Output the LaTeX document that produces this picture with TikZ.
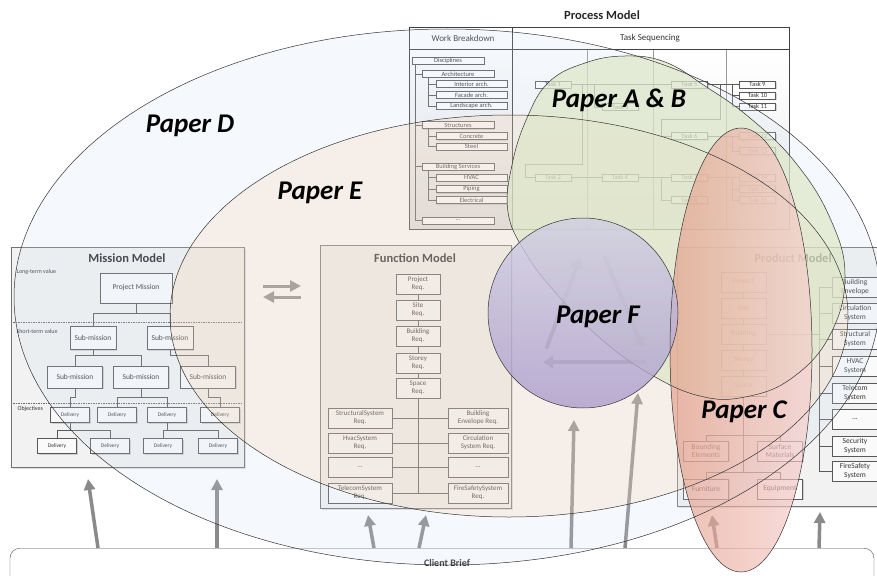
\documentclass[tikz,border=0pt]{standalone}
\usepackage{fontspec}
\setmainfont{Carlito}
\usepackage{tikz}
\usetikzlibrary{arrows.meta,shadows,calc}
\definecolor{dfill}{RGB}{205,222,240}
\definecolor{efill}{RGB}{250,205,160}
\definecolor{abfill}{RGB}{221,230,199}
\definecolor{cleft}{RGB}{228,156,135}
\definecolor{cright}{RGB}{246,206,206}
\definecolor{ftop}{RGB}{208,206,228}
\definecolor{fbot}{RGB}{171,156,203}
\definecolor{arrgray}{RGB}{138,138,138}

\begin{document}
\begin{tikzpicture}[x=1pt,y=-1pt,
  panel/.style = {draw=black!55, fill=black!5, drop shadow={shadow xshift=1.5pt, shadow yshift=-1.5pt, opacity=.25}},
  title/.style = {font=\fontsize{12.5}{14}\selectfont\bfseries, text=black!85},
  head/.style = {font=\fontsize{9}{10}\selectfont, text=black!80},
  note/.style = {font=\fontsize{6}{7}\selectfont, text=black!80, anchor=west},
  box/.style = {draw=black!65, fill=black!2, text=black!80, inner sep=0pt, align=center, drop shadow={shadow xshift=1pt, shadow yshift=-1pt, opacity=.3}},
  mbox/.style = {box, font=\fontsize{7.5}{9}\selectfont},
  dbox/.style = {box, minimum width=39pt, minimum height=15pt, font=\fontsize{5.5}{6}\selectfont},
  fbox/.style = {box, minimum width=44pt, minimum height=20pt, font=\fontsize{7}{8}\selectfont},
  sbox/.style = {fbox, minimum width=64pt},
  wbox/.style = {box, fill=white, minimum width=72pt, minimum height=7pt, font=\fontsize{6.5}{7}\selectfont},
  tbox/.style = {wbox, minimum width=36pt},
  pbox/.style = {fbox, minimum width=45pt, font=\fontsize{7.5}{8.5}\selectfont},
  link/.style = {draw=black!65, line width=.6pt},
  up/.style = {draw=arrgray, line width=3.5pt, -{Triangle[length=11pt,width=11pt]}},
  tri/.style = {draw=black!45, line width=4pt, line cap=round, -{Triangle[length=10pt,width=12pt]}},
  paper/.style = {draw=black!80, line width=.5pt},
  plabel/.style = {font=\fontsize{27}{30}\selectfont\bfseries\itshape}]
\useasboundingbox (0,0) rectangle (877,575);
\clip (0,0) rectangle (877,575);
\fill[white] (0,0) rectangle (877,575);

% process model
\node (PRT) at (602,15)[title] {Process Model};
\fill[white] (409,27) rectangle (789,229);
\shade[top color=white,bottom color=black!12] (409,49) rectangle (512,229);
\foreach \a/\b in {512/587,587/653,653/726,726/789}
  \shade[top color=white,bottom color=black!7] (\a,49) rectangle (\b,229);
\draw[black!40] (587,49) -- (587,229) (653,49) -- (653,229) (726,49) -- (726,229);
\draw[black!75] (409,27) rectangle (789,229) (409,49) -- (789,49) (512,27) -- (512,229);
\node (WBH) at (463,38)[head] {Work Breakdown};
\node (TSH) at (650,38)[head] {Task Sequencing};

\node (W0) at (448,61)[wbox] {Disciplines};
\node (W1) at (458,74)[wbox] {Architecture};
\node (W1a) at (471.5,84)[wbox,minimum width=71pt] {Interior arch.};
\node (W1b) at (471.5,95)[wbox,minimum width=71pt] {Facade arch.};
\node (W1c) at (471.5,106)[wbox,minimum width=71pt] {Landscape arch.};
\node (W2) at (458,125)[wbox] {Structures};
\node (W2a) at (471.5,136)[wbox,minimum width=71pt] {Concrete};
\node (W2b) at (471.5,146.5)[wbox,minimum width=71pt] {Steel};
\node (W3) at (458,166.5)[wbox] {Building Services};
\node (W3a) at (471.5,177.5)[wbox,minimum width=71pt] {HVAC};
\node (W3b) at (471.5,189)[wbox,minimum width=71pt] {Piping};
\node (W3c) at (471.5,200)[wbox,minimum width=71pt] {Electrical};
\node (W4) at (458,220.5)[wbox] {...};
\foreach \n in {W1,W2,W3,W4} \draw[link] ([xshift=3pt]W0.south west) |- (\n.west);
\foreach \n in {W1a,W1b,W1c} \draw[link] ([xshift=6pt]W1.south west) |- (\n.west);
\foreach \n in {W2a,W2b} \draw[link] ([xshift=6pt]W2.south west) |- (\n.west);
\foreach \n in {W3a,W3b,W3c} \draw[link] ([xshift=6pt]W3.south west) |- (\n.west);

\node (T1) at (553,84.5)[tbox] {Task 1};
\node (T2) at (553,177.5)[tbox] {Task 2};
\node (T3) at (620.5,107)[tbox] {Task 3};
\node (T4) at (620,177.5)[tbox] {Task 4};
\node (T5) at (689.5,84.5)[tbox] {Task 5};
\node (T6) at (689.5,136)[tbox] {Task 6};
\node (T7) at (689.5,177.5)[tbox] {Task 7};
\node (T8) at (689.5,200)[tbox] {Task 8};
\node (T9) at (757.5,84.5)[tbox] {Task 9};
\node (T10) at (757.5,95.5)[tbox] {Task 10};
\node (T11) at (757.5,106.5)[tbox] {Task 11};
\node (T12) at (757.5,136)[tbox] {Task 12};
\node (T13) at (757.5,151)[tbox] {Task 13};
\node (T14) at (757.5,177.5)[tbox] {Task 14};
\node (T15) at (757.5,189)[tbox] {Task 15};
\node (T16) at (757.5,200)[tbox] {Task 16};
\draw[link] (T1.east) -- (T5.west);
\draw[link] ([xshift=23pt]T1.east) |- (T3.west);
\draw[link] ([xshift=11pt]T1.east) -- ++(0,79.5) -| ([xshift=-10pt]T2.west) -- (T2.west);
\draw[link] (T2.east) -- (T4.west);
\draw[link] (T4.east) -- (T7.west);
\draw[link] ([xshift=23pt]T4.east) |- (T8.west);
\draw[link] (T5.east) -- (T9.west);
\draw[link] ([xshift=25pt]T5.east) |- (T10.west);
\draw[link] ([xshift=25pt]T5.east) |- (T11.west);
\draw[link] ([xshift=13pt]T5.east) -- ++(0,34.5) -| ([xshift=-10pt]T6.west) -- (T6.west);
\draw[link] (T6.east) -- (T12.west);
\draw[link] ([xshift=25pt]T6.east) |- (T13.west);
\draw[link] (T7.east) -- (T14.west);
\draw[link] ([xshift=25pt]T7.east) |- (T15.west);
\draw[link] ([xshift=25pt]T7.east) |- (T16.west);

% mission model
\draw[panel] (11,247) rectangle (244,467);
\node (MT) at (127,258)[title] {Mission Model};
\node (LV) at (13,272)[note] {Long-term value};
\node (SV) at (13,331)[note] {Short-term value};
\node (OB) at (14,409)[note] {Objectives};
\draw[black!60,dash pattern=on 1.5pt off 1pt] (13,322) -- (242,322) (13,403) -- (242,403);
\node (PM) at (136,288)[mbox,minimum width=72pt,minimum height=30pt] {Project Mission};
\node (S1) at (93,338)[mbox,minimum width=46pt,minimum height=23pt] {Sub-mission};
\node (S2) at (170,338)[mbox,minimum width=46pt,minimum height=23pt] {Sub-mission};
\node (S3) at (75,377)[mbox,minimum width=55pt,minimum height=22pt] {Sub-mission};
\node (S4) at (141,377)[mbox,minimum width=55pt,minimum height=22pt] {Sub-mission};
\node (S5) at (208,377)[mbox,minimum width=55pt,minimum height=22pt] {Sub-mission};
\node (D1) at (70,415)[dbox] {Delivery};
\node (D2) at (117,415)[dbox] {Delivery};
\node (D3) at (167,415)[dbox] {Delivery};
\node (D4) at (220,415)[dbox] {Delivery};
\node (D5) at (57,446)[dbox] {Delivery};
\node (D6) at (110,446)[dbox] {Delivery};
\node (D7) at (163,446)[dbox] {Delivery};
\node (D8) at (218,446)[dbox] {Delivery};
\draw[link] (PM.south) -- ++(0,10) -| (S1.north);
\draw[link] (PM.south) -- ++(0,10) -| (S2.north);
\draw[link] (S1.south) -- ++(0,6) -| (S3.north);
\draw[link] (S1.south) -- ++(0,6) -| (S4.north);
\draw[link] (S2.south) -- ++(0,6) -| (S5.north);
\draw[link] (S3.south) -- ++(0,9) -| (D1.north);
\draw[link] (S4.south) -- ++(0,9) -| (D2.north);
\draw[link] (S4.south) -- ++(0,9) -| (D3.north);
\draw[link] (S5.south) -- ++(0,9) -| (D4.north);
\draw[link] (D1.south) -- ++(0,8) -| (D5.north);
\draw[link] (D1.south) -- ++(0,8) -| (D6.north);
\draw[link] (D3.south) -- ++(0,8) -| (D7.north);
\draw[link] (D3.south) -- ++(0,8) -| (D8.north);

% function model
\draw[panel] (320,245) rectangle (511,508);
\node (FT) at (415,258)[title] {Function Model};
\node (F1) at (418,284)[fbox] {Project\\Req.};
\node (F2) at (418,310)[fbox] {Site\\Req.};
\node (F3) at (418,336)[fbox] {Building\\Req.};
\node (F4) at (418,363)[fbox] {Storey\\Req.};
\node (F5) at (418,388)[fbox] {Space\\Req.};
\node (L1) at (360,418)[sbox] {StructuralSystem\\Req.};
\node (L2) at (360,443)[sbox] {HvacSystem\\Req.};
\node (L3) at (360,467)[sbox] {...};
\node (L4) at (360,493)[sbox] {TelecomSystem\\Req.};
\node (R1) at (478,418)[sbox,minimum width=60pt] {Building\\Envelope Req.};
\node (R2) at (478,443)[sbox,minimum width=60pt] {Circulation\\System Req.};
\node (R3) at (478,467)[sbox,minimum width=60pt] {...};
\node (R4) at (478,493)[sbox,minimum width=60pt] {FireSafetySystem\\Req.};
\draw[link] (F1) -- (F2);
\draw[link] (F2) -- (F3);
\draw[link] (F3) -- (F4);
\draw[link] (F4) -- (F5);
\draw[link,line width=1pt] (F5.south) -- (F5.south |- L4.east);
\foreach \i in {1,...,4} \draw[link] (L\i.east) -- (R\i.west);

% product model
\draw[panel] (677,247) rectangle (885,506);
\node (PT) at (793,258)[title,text=black] {Product Model};
\node (P1) at (743.5,282)[pbox] {Project};
\node (P2) at (743.5,308)[pbox] {Site};
\node (P3) at (743.5,334)[pbox] {Building};
\node (P4) at (743.5,360)[pbox] {Storey};
\node (P5) at (743.5,386)[pbox] {Space};
\node (B1) at (706,451)[pbox] {Bounding\\Elements};
\node (B2) at (780,451)[pbox] {Surface\\Materials};
\node (B3) at (706,489)[pbox] {Furniture};
\node (B4) at (780,489)[pbox] {Equipment};
\node (Q1) at (855,287)[pbox] {Building\\Envelope};
\node (Q2) at (855,313)[pbox] {Circulation\\System};
\node (Q3) at (855,339)[pbox] {Structural\\System};
\node (Q4) at (855,366)[pbox] {HVAC\\System};
\node (Q5) at (855,393)[pbox] {Telecom\\System};
\node (Q6) at (855,419)[pbox] {...};
\node (Q7) at (855,446)[pbox] {Security\\System};
\node (Q8) at (855,471)[pbox] {FireSafety\\System};
\draw[link] (P1) -- (P2);
\draw[link] (P2) -- (P3);
\draw[link] (P3) -- (P4);
\draw[link] (P4) -- (P5);
\draw[link] (P5.south) -- ++(0,76);
\draw[link] (B1.north) -- ++(0,-6) -| (B2.north);
\draw[link] (B3.north) -- ++(0,-7) -| (B4.north);
\draw[link] (P3.east) -- ++(53,0);
\foreach \i in {1,...,8} \draw[link] ([xshift=-13pt]Q1.west) |- (Q\i.west);

% client brief and arrows
\node (CB) at (442,548)[draw=black!70,fill=white,rounded corners=10pt,minimum width=864pt,minimum height=50pt,anchor=north] {};
\node (CBT) at (447,563)[font=\fontsize{10}{12}\selectfont\bfseries,text=black!85] {Client Brief};
\foreach \bx/\tx/\ty [count=\i] in {98/88/479, 217/217/479, 374/368/515, 419/426/515, 571/574/420, 625/638/393, 717/712/515, 819/820/512} {
  \coordinate (b\i) at (\bx,548);
  \coordinate (t\i) at (\tx,\ty);
  \draw[up] (b\i) -- (t\i);
}
\coordinate (x1) at (263,286);
\coordinate (x2) at (301,286);
\coordinate (x3) at (301,297);
\coordinate (x4) at (263,297);
\draw[up,line width=3pt] (x1) -- (x2);
\draw[up,line width=3pt] (x3) -- (x4);

% faint cycle inside paper F
\coordinate (f1) at (547,347);
\coordinate (f2) at (580,258);
\coordinate (f3) at (605,258);
\coordinate (f4) at (643,348);
\coordinate (f5) at (645,362);
\coordinate (f6) at (543,362);
\draw[tri] (f1) -- (f2);
\draw[tri] (f3) -- (f4);
\draw[tri] (f5) -- (f6);

% papers
\def\abpath{plot[smooth cycle,tension=.7] coordinates {(508,212) (512,165) (527,118) (549,82) (585,63) (625,56) (665,62) (705,86) (750,118) (795,162) (830,218) (845,276) (830,335) (792,378) (745,397) (700,396) (650,374) (600,338) (555,292) (525,252)}}
\fill[dfill,fill opacity=.2] (447,297) ellipse [x radius=433pt,y radius=268pt];
\fill[efill,fill opacity=.2] (509,316) ellipse [x radius=339pt,y radius=201pt];
\fill[abfill,fill opacity=.7] \abpath;
\shade[left color=cleft,right color=cright,fill opacity=.65] (741,350) ellipse [x radius=71pt,y radius=222pt];
\draw[paper] \abpath;
\shade[top color=ftop,bottom color=fbot,fill opacity=.8] (583,313) circle [radius=95pt];
\draw[paper] (447,297) ellipse [x radius=433pt,y radius=268pt];
\draw[paper] (509,316) ellipse [x radius=339pt,y radius=201pt];
\draw[paper] (741,350) ellipse [x radius=71pt,y radius=222pt];
\draw[paper] (583,313) circle [radius=95pt];
\node (PD) at (190,126)[plabel] {Paper D};
\node (PE) at (320,193)[plabel] {Paper E};
\node (PAB) at (619,100)[plabel] {Paper A \& B};
\node (PF) at (598,317)[plabel] {Paper F};
\node (PC) at (744,412)[plabel] {Paper C};
\end{tikzpicture}
\end{document}
